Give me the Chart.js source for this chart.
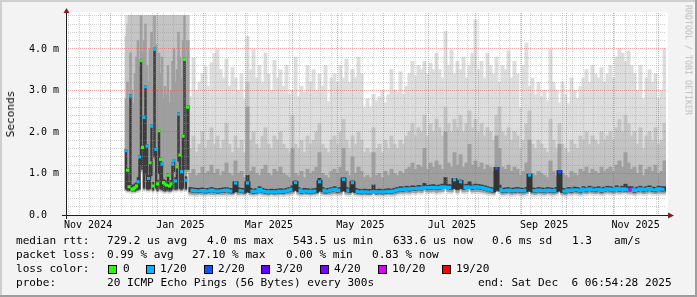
<!DOCTYPE html>
<html><head><meta charset="utf-8">
<script src="https://cdn.jsdelivr.net/npm/chart.js@4/dist/chart.umd.min.js"></script>
<style>
html,body{margin:0;padding:0;background:#f3f3f3;}
#wrap{position:relative;width:697px;height:297px;overflow:hidden;background:#f3f3f3;}
canvas{position:absolute;left:0;top:0;}
.t{position:absolute;font-family:'DejaVu Sans Mono',monospace;font-size:11.1px;line-height:14px;color:#000;white-space:pre;}
.box{position:absolute;width:7px;height:7px;border:1px solid #000;}
.fr{position:absolute;}
</style></head>
<body><div id="wrap">
<canvas id="c" width="697" height="297"></canvas>
<div class="t" id="ytitle" style="left:10.5px;top:114px;transform:translate(-50%,-50%) rotate(-90deg);">Seconds</div>
<div class="t" id="wm" style="left:688px;top:60px;font-size:8.3px;line-height:9px;color:#bcbcbc;transform:translate(-50%,-50%) rotate(90deg);">RRDTOOL / TOBI OETIKER</div>
<div id="legend"></div>
<div class="fr" style="left:0;top:0;width:697px;height:2px;background:#cfcfcf"></div>
<div class="fr" style="left:0;top:0;width:2px;height:297px;background:#cfcfcf"></div>
<div class="fr" style="left:0;top:295px;width:697px;height:2px;background:#9e9e9e"></div>
<div class="fr" style="left:695px;top:0;width:2px;height:297px;background:#9e9e9e"></div>
</div>
<script>
// ---------------- data (milliseconds) ----------------
// first block: one sample per day from day 40 (mid Dec 2024) to day 81
// second block: one sample per 2 days from day 83 to day 399 (x axis: days since Nov 1 2024 06:54)
const monthLabels = ['Nov 2024','Jan 2025','Mar 2025','May 2025','Jul 2025','Sep 2025','Nov 2025'];
const yTickLabels = ['0.0  ','1.0 m','2.0 m','3.0 m','4.0 m'];

const rttMax = [
5,5,5,5,5,5,5,5,5,5, 5,5,5,5,5,5,5,5,5,5, 5,5,5,5,5,5,5,5,5,5, 5,5,5,5,5,5,5,5,5,5, 5,5,
2.85,3.78,3.0,3.2,3.4,3.57,3.1,3.67,3.9,3.98,3.5,3.3,3.75,3.1,3.55,3.3,3.0,3.4,2.78,4.3,
3.5,3.98,3.3,3.6,3.2,3.9,3.4,3.0,3.73,3.3,3.5,3.1,3.6,2.9,3.0,3.8,2.85,3.1,2.95,3.6,
3.2,3.5,3.0,3.4,3.1,3.6,2.73,3.3,3.4,3.2,3.6,3.3,3.75,3.2,3.5,3.3,3.8,3.4,2.6,2.8,
2.6,2.9,2.75,2.85,3.0,2.7,2.9,3.5,3.0,2.95,3.45,2.9,3.1,3.4,3.7,3.35,3.6,3.5,3.7,3.4,
3.65,3.5,3.9,3.5,3.3,4.42,3.6,3.97,3.4,3.7,3.5,3.8,3.3,3.6,3.9,4.7,3.5,3.7,3.3,3.9,
3.6,3.4,3.8,3.2,3.6,3.5,3.95,3.3,3.7,3.4,2.58,3.6,4.14,3.1,3.3,2.9,3.2,2.85,3.0,2.75,
3.99,3.2,3.0,2.7,3.2,2.9,2.68,3.3,3.0,2.8,3.1,3.3,3.5,3.2,3.6,3.4,3.3,3.55,3.2,3.4,
3.6,3.3,3.8,4.0,3.9,3.7,3.95,3.6,3.4,3.0,3.6,2.8,3.3,3.5,3.2,3.4,2.8,3.0,4.02];

const smokeHi = [
4.3,4.6,5,5,5,5,5,5,5,5, 5,5,5,5,5,5,5,5,5,5, 5,5,5,5,5,5,5,5,5,5, 5,5,5,5,5,5,5,5,5,5, 4.6,5,
1.6,1.9,1.5,1.7,2.0,1.6,1.8,2.1,1.7,1.9,1.6,1.8,2.2,1.7,1.5,1.9,1.6,1.8,1.5,3.2,
1.8,2.0,1.7,1.6,1.9,2.1,1.7,1.6,1.9,1.8,2.0,1.7,1.6,1.5,2.4,1.7,1.6,1.8,1.5,1.9,
1.7,1.8,2.0,2.2,1.7,1.6,1.5,1.8,1.9,1.7,2.0,2.3,1.8,1.6,1.9,1.7,2.0,1.8,1.5,1.6,
1.5,2.1,1.6,1.7,1.5,1.8,1.6,1.9,1.7,1.6,1.8,1.7,1.9,2.0,2.2,1.9,2.1,2.0,2.4,1.9,
2.2,2.0,2.3,2.1,1.9,2.6,2.2,2.0,2.3,2.1,2.4,2.0,2.2,2.5,2.1,2.3,2.0,2.2,1.9,2.1,
2.0,1.8,2.4,2.6,2.0,1.9,2.1,1.8,2.0,1.9,1.6,1.8,2.2,2.5,1.7,1.6,1.8,1.7,1.6,1.5,
2.3,1.8,1.6,2.2,1.7,1.6,1.5,1.8,1.7,1.6,1.9,1.8,2.0,1.7,1.9,1.8,1.7,2.0,1.8,1.9,
2.0,1.8,2.1,2.3,2.0,2.4,2.2,1.9,2.0,1.7,2.1,1.6,1.9,2.0,1.8,2.1,1.7,1.8,2.2];

const midHi = [
2.8,3.2,2.6,3.9,3.0,2.7,3.4,3.8,4.2,3.6, 4.8,3.9,4.2,4.6,3.6,3.2,4.0,4.4,3.1,4.8,
4.1,3.0,3.9,3.4,3.8,2.8,3.1,2.9,3.6,2.7, 3.0,3.7,4.0,3.2,3.5,4.4,3.8,3.3,4.2,4.8, 2.9,4.2,
1.0,1.1,0.95,1.0,1.15,1.0,1.05,1.2,1.0,1.1,0.95,1.05,1.25,1.0,0.95,1.3,1.0,1.05,0.9,2.6,
1.05,1.15,1.0,0.95,1.1,1.2,1.0,0.95,1.1,1.05,1.15,1.0,0.95,0.9,1.6,1.0,0.95,1.05,0.9,1.1,
1.0,1.05,1.15,1.5,1.0,0.95,0.9,1.05,1.1,1.0,1.15,1.6,1.05,0.95,1.4,1.0,1.15,1.05,0.9,0.95,
0.9,1.5,0.95,1.0,0.9,1.05,0.95,1.1,1.0,0.95,1.05,1.0,1.1,1.15,1.25,1.1,1.2,1.15,1.6,1.1,
1.25,1.15,1.3,1.2,1.1,2.0,1.25,1.15,1.5,1.2,1.45,1.15,1.25,1.7,1.2,1.3,1.15,1.25,1.1,1.2,
1.15,1.05,1.9,1.6,1.15,1.1,1.2,1.05,1.15,1.1,0.95,1.05,1.25,1.8,1.0,0.95,1.05,1.0,0.95,0.9,
1.3,1.05,0.95,1.7,1.0,0.95,0.9,1.05,1.0,0.95,1.1,1.05,1.15,1.0,1.1,1.05,1.0,1.15,1.05,1.1,
1.15,1.05,1.2,1.3,1.15,1.5,1.25,1.1,1.15,1.0,1.2,0.95,1.1,1.15,1.05,1.2,1.0,1.05,1.3];

const coreHi = [
1.58,1.12,0.78,2.9,0.72,0.72,0.75,0.78,0.9,1.43, 3.75,1.66,2.38,3.12,1.69,0.95,1.29,2.17,0.78,4.02,
1.61,0.84,2.06,1.37,1.26,0.86,0.83,0.8,1.0,0.78, 0.83,1.26,1.34,0.9,1.19,2.46,1.48,1.08,1.93,3.78, 0.92,2.63,
0.66,0.65,0.64,0.64,0.65,0.63,0.64,0.66,0.64,0.63,0.64,0.65,0.66,0.64,0.63,0.80,0.65,0.64,0.63,0.95,
0.64,0.62,0.63,0.68,0.64,0.62,0.61,0.62,0.61,0.62,0.63,0.62,0.64,0.66,0.70,0.82,0.66,0.62,0.64,0.63,
0.62,0.63,0.64,0.88,0.66,0.63,0.64,0.66,0.68,0.65,0.66,0.90,0.66,0.64,0.82,0.64,0.62,0.61,0.62,0.61,
0.61,0.72,0.61,0.62,0.61,0.62,0.63,0.62,0.64,0.66,0.68,0.67,0.69,0.68,0.70,0.69,0.71,0.70,0.76,0.71,
0.72,0.73,0.71,0.72,0.74,0.90,0.73,0.72,0.88,0.71,0.84,0.72,0.74,0.80,0.72,0.74,0.73,0.72,0.70,0.68,
0.66,0.65,1.14,0.72,0.64,0.65,0.66,0.64,0.65,0.66,0.65,0.64,0.66,0.98,0.65,0.64,0.66,0.65,0.64,0.66,
0.65,0.64,0.66,1.06,0.64,0.63,0.66,0.65,0.67,0.66,0.64,0.68,0.66,0.69,0.67,0.66,0.68,0.65,0.67,0.69,
0.68,0.66,0.70,0.67,0.69,0.74,0.68,0.68,0.65,0.67,0.69,0.66,0.68,0.70,0.67,0.66,0.69,0.68,0.68];

const medianRtt = [
1.55,1.08,0.68,2.87,0.62,0.63,0.66,0.70,0.80,1.40, 3.72,1.63,2.35,3.09,1.66,0.88,1.26,2.14,0.70,3.99,
1.58,0.75,2.03,1.34,1.23,0.78,0.75,0.72,0.96,0.70, 0.75,1.23,1.31,0.82,1.16,2.43,1.45,1.05,1.90,3.75, 0.84,2.60,
0.60,0.59,0.58,0.58,0.59,0.57,0.58,0.60,0.58,0.57,0.58,0.59,0.60,0.58,0.57,0.77,0.59,0.58,0.57,0.77,
0.58,0.56,0.57,0.62,0.58,0.56,0.55,0.56,0.55,0.56,0.57,0.56,0.58,0.60,0.62,0.78,0.60,0.56,0.58,0.57,
0.56,0.57,0.58,0.80,0.60,0.57,0.58,0.60,0.62,0.59,0.60,0.86,0.60,0.58,0.78,0.58,0.56,0.55,0.56,0.55,
0.55,0.56,0.55,0.56,0.55,0.56,0.57,0.56,0.58,0.60,0.62,0.61,0.63,0.62,0.64,0.63,0.65,0.64,0.66,0.65,
0.66,0.67,0.65,0.66,0.68,0.66,0.67,0.66,0.85,0.65,0.80,0.66,0.68,0.67,0.66,0.68,0.67,0.66,0.64,0.62,
0.60,0.59,1.12,0.62,0.58,0.59,0.60,0.58,0.59,0.60,0.59,0.58,0.60,0.96,0.59,0.58,0.60,0.59,0.58,0.60,
0.59,0.58,0.60,1.04,0.58,0.57,0.60,0.59,0.61,0.60,0.58,0.62,0.60,0.63,0.61,0.60,0.62,0.59,0.61,0.63,
0.62,0.60,0.64,0.61,0.63,0.60,0.62,0.62,0.59,0.61,0.63,0.60,0.62,0.64,0.61,0.60,0.63,0.62,0.62];

// lost pings out of 20 for each sample
const lostPings = [
1,0,0,1,0,0,0,0,1,1, 0,0,1,1,1,1,0,1,0,1, 1,0,0,0,1,0,0,0,0,0, 0,1,1,1,0,1,0,1,0,0, 1,0,
1,1,1,1,1,1,1,1,1,1,1,1,1,1,1,1,1,1,1,1,
1,1,1,1,1,1,1,1,1,1,1,1,1,1,1,1,1,1,1,1,
1,1,1,1,1,1,1,1,1,1,1,1,1,1,1,1,1,1,1,1,
1,1,1,1,1,1,1,1,1,1,1,1,1,1,1,1,1,1,1,1,
1,1,1,1,1,1,1,1,1,1,1,1,1,1,1,1,1,1,1,1,
1,1,2,1,1,1,1,1,1,1,1,1,1,1,1,1,1,1,1,1,
1,1,1,2,1,1,1,1,1,1,1,1,1,1,1,1,1,1,1,1,
1,1,1,1,1,1,1,10,1,1,1,1,1,1,1,1,1,1,1];

const rttMin = [
0.56,0.54,0.53,0.55,0.52,0.53,0.52,0.54,0.55,0.56, 1.10,1.00,0.58,0.90,0.56,0.55,0.57,0.85,0.54,1.30,
0.58,0.53,0.90,0.56,0.55,0.53,0.52,0.53,0.55,0.52, 0.53,0.56,0.95,0.55,0.56,1.20,0.57,0.55,0.58,1.00, 0.56,1.00,
0.46,0.45,0.45,0.46,0.45,0.45,0.46,0.45,0.45,0.46,0.45,0.45,0.46,0.45,0.45,0.52,0.45,0.46,0.45,0.60,
0.45,0.44,0.45,0.47,0.45,0.44,0.44,0.45,0.44,0.44,0.45,0.44,0.46,0.46,0.48,0.60,0.46,0.44,0.45,0.45,
0.44,0.45,0.46,0.60,0.46,0.45,0.45,0.46,0.47,0.46,0.46,0.62,0.46,0.45,0.58,0.45,0.44,0.44,0.44,0.44,
0.44,0.52,0.44,0.44,0.44,0.44,0.45,0.44,0.45,0.47,0.48,0.48,0.49,0.48,0.50,0.49,0.51,0.50,0.56,0.51,
0.51,0.52,0.50,0.51,0.52,0.62,0.52,0.51,0.64,0.50,0.60,0.51,0.52,0.58,0.51,0.52,0.52,0.51,0.50,0.48,
0.47,0.46,0.66,0.52,0.45,0.46,0.47,0.45,0.46,0.47,0.46,0.45,0.47,0.60,0.46,0.45,0.47,0.46,0.45,0.47,
0.46,0.45,0.47,0.62,0.45,0.44,0.47,0.46,0.48,0.47,0.45,0.48,0.47,0.49,0.48,0.47,0.48,0.46,0.48,0.49,
0.48,0.47,0.49,0.48,0.49,0.52,0.48,0.48,0.46,0.48,0.49,0.47,0.48,0.50,0.48,0.47,0.49,0.48,0.48];

const midLo = [
0.60,0.58,0.57,0.59,0.56,0.57,0.56,0.58,0.59,0.60, 1.15,1.05,0.62,0.95,0.60,0.59,0.61,0.90,0.58,1.35,
0.62,0.57,0.95,0.60,0.59,0.57,0.56,0.57,0.59,0.56, 0.57,0.60,1.00,0.59,0.60,1.25,0.61,0.59,0.62,1.05, 0.60,1.05,
0.51,0.50,0.50,0.51,0.50,0.50,0.51,0.50,0.50,0.51,0.50,0.50,0.51,0.50,0.50,0.57,0.50,0.51,0.50,0.65,
0.50,0.49,0.50,0.52,0.50,0.49,0.49,0.50,0.49,0.49,0.50,0.49,0.51,0.51,0.53,0.65,0.51,0.49,0.50,0.50,
0.49,0.50,0.51,0.65,0.51,0.50,0.50,0.51,0.52,0.51,0.51,0.67,0.51,0.50,0.63,0.50,0.49,0.49,0.49,0.49,
0.49,0.57,0.49,0.49,0.49,0.49,0.50,0.49,0.50,0.52,0.53,0.53,0.54,0.53,0.55,0.54,0.56,0.55,0.61,0.56,
0.56,0.57,0.55,0.56,0.57,0.67,0.57,0.56,0.69,0.55,0.65,0.56,0.57,0.63,0.56,0.57,0.57,0.56,0.55,0.53,
0.52,0.51,0.71,0.57,0.50,0.51,0.52,0.50,0.51,0.52,0.51,0.50,0.52,0.65,0.51,0.50,0.52,0.51,0.50,0.52,
0.51,0.50,0.52,0.67,0.50,0.49,0.52,0.51,0.53,0.52,0.50,0.53,0.52,0.54,0.53,0.52,0.53,0.51,0.53,0.54,
0.53,0.52,0.54,0.53,0.54,0.57,0.53,0.53,0.51,0.53,0.54,0.52,0.53,0.55,0.53,0.52,0.54,0.53,0.53];

const coreLo = [
0.63,0.60,0.59,0.62,0.58,0.59,0.58,0.60,0.62,0.63, 1.20,1.10,0.65,1.00,0.63,0.62,0.64,0.95,0.60,1.40,
0.65,0.59,1.00,0.63,0.62,0.59,0.58,0.59,0.62,0.58, 0.59,0.63,1.05,0.62,0.63,1.30,0.64,0.62,0.65,1.10, 0.63,1.10,
0.56,0.55,0.54,0.54,0.55,0.53,0.54,0.56,0.54,0.53,0.54,0.55,0.56,0.54,0.53,0.60,0.55,0.54,0.53,0.68,
0.54,0.52,0.53,0.56,0.54,0.52,0.51,0.52,0.51,0.52,0.53,0.52,0.54,0.56,0.57,0.68,0.56,0.52,0.54,0.53,
0.52,0.53,0.54,0.68,0.56,0.53,0.54,0.56,0.57,0.55,0.56,0.70,0.56,0.54,0.66,0.54,0.52,0.51,0.52,0.51,
0.51,0.58,0.51,0.52,0.51,0.52,0.53,0.52,0.54,0.56,0.58,0.57,0.59,0.58,0.60,0.59,0.61,0.60,0.64,0.61,
0.62,0.63,0.61,0.62,0.64,0.70,0.63,0.62,0.74,0.61,0.70,0.62,0.64,0.66,0.62,0.64,0.63,0.62,0.60,0.58,
0.56,0.55,0.76,0.58,0.54,0.55,0.56,0.54,0.55,0.56,0.55,0.54,0.56,0.70,0.55,0.54,0.56,0.55,0.54,0.56,
0.55,0.54,0.56,0.72,0.54,0.53,0.56,0.55,0.57,0.56,0.54,0.58,0.56,0.59,0.57,0.56,0.58,0.55,0.57,0.59,
0.58,0.56,0.60,0.57,0.59,0.56,0.58,0.58,0.55,0.57,0.59,0.56,0.58,0.60,0.57,0.56,0.59,0.58,0.58];

const lossLegend = ['0','1/20','2/20','3/20','4/20','10/20','19/20'];
const lossLevels = [0,1,2,3,4,10,19];
const lossColors = ['#26ff00','#00b8ff','#0059ff','#5e00ff','#7e00ff','#dd00ff','#ff0000'];

const statLines = [
  [['median rtt:',16],['729.2 us avg',107],['4.0 ms max',207],['543.5 us min',293],['633.6 us now',393],['0.6 ms sd',492],['1.3',572],['am/s',614]],
  [['packet loss:',16],['0.99 % avg',107],['27.10 % max',192],['0.00 % min',286],['0.83 % now',372]],
  [['loss color:',16]],
  [['probe:',16],['20 ICMP Echo Pings (56 Bytes) every 300s',107],['end: Sat Dec  6 06:54:28 2025',478]]
];

// ---------------- build ----------------
const N1 = 42, N2 = 159;
const sampleDays = [];
for (let i = 0; i < N1; i++) sampleDays.push(40 + i);
for (let i = 0; i < N2; i++) sampleDays.push(83 + 2 * i);

function lossColor(n){ let c = lossColors[0]; lossLevels.forEach((l,k)=>{ if (n >= l) c = lossColors[k]; }); return c; }
const band = (lo, hi) => sampleDays.map((d, i) => ({x: d, y: [lo[i], hi[i]]}));
const med2 = medianRtt.slice(N1), loss2 = lostPings.slice(N1);
const isSpike = i => { const p = med2[Math.max(0, i - 1)], n = med2[Math.min(med2.length - 1, i + 1)]; return med2[i] - Math.min(p, n) > 0.12; };

const START = Date.UTC(2024, 10, 1, 5, 54, 28);
const dayOf = (y, m, d) => (Date.UTC(y, m, d, -1) - START) / 864e5;
const monthStarts = [], monthMids = [];
for (let k = 0; k < 15; k++) {
  const a = dayOf(2024, 10 + k, 1), b = dayOf(2024, 11 + k, 1);
  if (a > 0 && a < 400) monthStarts.push(a);
  if (k % 2 === 0 && k / 2 < monthLabels.length) monthMids.push((a + b) / 2);
}
const weekLines = [];
for (let d = dayOf(2024, 10, 3); d < 400; d += 7) {
  if (!monthStarts.some(m => Math.abs(m - d) < 0.5)) weekLines.push(d);
}

const barCommon = {type: 'bar', stack: 'smoke', barPercentage: 1, categoryPercentage: 1,
  barThickness: 'flex', borderWidth: 0, borderSkipped: false, inflateAmount: 0.5, clip: 0};

function drawGrid(chart) {
  const {ctx, chartArea: a, scales: {x, y}} = chart;
  ctx.save();
  ctx.lineWidth = 1; ctx.setLineDash([1, 1]);
  const hl = (v, c) => { const py = Math.floor(y.getPixelForValue(v)) + 0.5; ctx.strokeStyle = c; ctx.beginPath(); ctx.moveTo(a.left, py); ctx.lineTo(a.right, py); ctx.stroke(); };
  const vl = (d, c) => { const px = Math.floor(x.getPixelForValue(d)) + 0.5; ctx.strokeStyle = c; ctx.beginPath(); ctx.moveTo(px, a.top - 2); ctx.lineTo(px, a.bottom); ctx.stroke(); };
  const minor = 'rgba(150,150,150,0.42)', major = 'rgba(222,79,79,0.5)';
  for (let k = 1; k <= 24; k++) if (k % 5) hl(k * 0.2, minor);
  weekLines.forEach(d => vl(d, minor));
  for (let k = 1; k <= 4; k++) hl(k, major);
  monthStarts.forEach(d => vl(d, major));
  ctx.restore();
}

const rrdPlugin = {
  id: 'rrd',
  beforeDraw(chart) {
    const {ctx, chartArea: a} = chart;
    ctx.save();
    ctx.fillStyle = '#f3f3f3'; ctx.fillRect(0, 0, chart.width, chart.height);
    ctx.fillStyle = '#ffffff'; ctx.fillRect(a.left, a.top - 3, a.right - a.left + 2, a.bottom - a.top + 3);
    ctx.restore();
  },
  afterDatasetDraw(chart, args) { if (args.index === 3) drawGrid(chart); },
  afterDraw(chart) {
    const {ctx, chartArea: a} = chart;
    ctx.save();
    ctx.setLineDash([]); ctx.lineWidth = 1; ctx.strokeStyle = '#1f1f1f';
    ctx.beginPath(); ctx.moveTo(a.left - 4, a.bottom + 0.5); ctx.lineTo(a.right + 3, a.bottom + 0.5); ctx.stroke();
    ctx.beginPath(); ctx.moveTo(a.left + 0.5, a.bottom + 4); ctx.lineTo(a.left + 0.5, a.top - 3); ctx.stroke();
    ctx.fillStyle = '#801f1f';
    ctx.beginPath(); ctx.moveTo(a.left - 2.5, a.top - 2); ctx.lineTo(a.left + 3.5, a.top - 2); ctx.lineTo(a.left + 0.5, a.top - 7); ctx.closePath(); ctx.fill();
    ctx.beginPath(); ctx.moveTo(a.right + 2, a.bottom - 2.5); ctx.lineTo(a.right + 2, a.bottom + 3.5); ctx.lineTo(a.right + 8, a.bottom + 0.5); ctx.closePath(); ctx.fill();
    ctx.restore();
  }
};

const font10 = {family: 'DejaVu Sans Mono', size: 10};
new Chart(document.getElementById('c'), {
  type: 'bar',
  data: {datasets: [
    {...barCommon, data: band(rttMin, rttMax), backgroundColor: '#dddddd', order: 10},
    {...barCommon, data: band(midLo, smokeHi), backgroundColor: '#c4c4c4', order: 9},
    {...barCommon, data: band(midLo, midHi), backgroundColor: '#9f9f9f', order: 8},
    {...barCommon, data: band(coreLo, coreHi), backgroundColor: '#3c3c3c', order: 7},
    {type: 'line', order: 1, clip: 0,
     data: sampleDays.slice(N1).map((d, i) => ({x: d, y: med2[i]})),
     borderWidth: 3, stepped: 'middle', borderColor: lossColors[1],
     pointStyle: 'rect', pointBorderWidth: 0,
     pointRadius: c => isSpike(c.dataIndex) ? 2.2 : 0,
     pointBackgroundColor: c => lossColor(loss2[c.dataIndex]),
     segment: {borderColor: c => Math.abs(c.p1.parsed.y - c.p0.parsed.y) > 0.12 ? '#333333' : lossColor(loss2[c.p1DataIndex])}},
    {type: 'line', order: 0, clip: 0, showLine: false,
     data: sampleDays.slice(0, N1).map((d, i) => ({x: d, y: medianRtt[i]})),
     pointStyle: 'rect', pointRadius: 2.2, pointBorderWidth: 0,
     pointBackgroundColor: lostPings.slice(0, N1).map(lossColor)}
  ]},
  options: {
    responsive: false, animation: false, devicePixelRatio: 1,
    layout: {padding: {top: 15, right: 31, left: 0, bottom: 0}},
    plugins: {legend: {display: false}, tooltip: {enabled: false}},
    scales: {
      x: {type: 'linear', min: 0, max: 400, offset: false,
          grid: {display: false, drawTicks: false}, border: {display: false},
          afterBuildTicks: s => { s.ticks = monthMids.map(v => ({value: v})); },
          afterFit: s => { s.height = 82; },
          ticks: {autoSkip: false, maxRotation: 0, padding: 4, color: '#000', font: font10,
                  callback: (v, i) => monthLabels[i]}},
      y: {type: 'linear', min: 0, max: 4.819, stacked: false,
          grid: {display: false, drawTicks: false}, border: {display: false},
          afterFit: s => { s.width = 66; },
          ticks: {stepSize: 1, includeBounds: false, padding: 7, color: '#000', font: font10,
                  callback: (v) => yTickLabels[Math.round(v)]}}
    }
  },
  plugins: [rrdPlugin]
});

// ---------------- text legend ----------------
const lg = document.getElementById('legend');
const rowTop = [234, 248, 262, 276];
statLines.forEach((row, r) => row.forEach(([txt, x]) => {
  const d = document.createElement('div'); d.className = 't';
  d.style.left = x + 'px'; d.style.top = rowTop[r] + 'px'; d.textContent = txt; lg.appendChild(d);
}));
const boxX = [108, 146, 204, 261, 320, 378, 442], lblX = [123, 160, 218, 276, 334, 392, 456];
lossLegend.forEach((t, k) => {
  const b = document.createElement('div'); b.className = 'box';
  b.style.left = boxX[k] + 'px'; b.style.top = '265px'; b.style.background = lossColors[k]; lg.appendChild(b);
  const d = document.createElement('div'); d.className = 't';
  d.style.left = lblX[k] + 'px'; d.style.top = rowTop[2] + 'px'; d.textContent = t; lg.appendChild(d);
});
</script>
</body></html>
